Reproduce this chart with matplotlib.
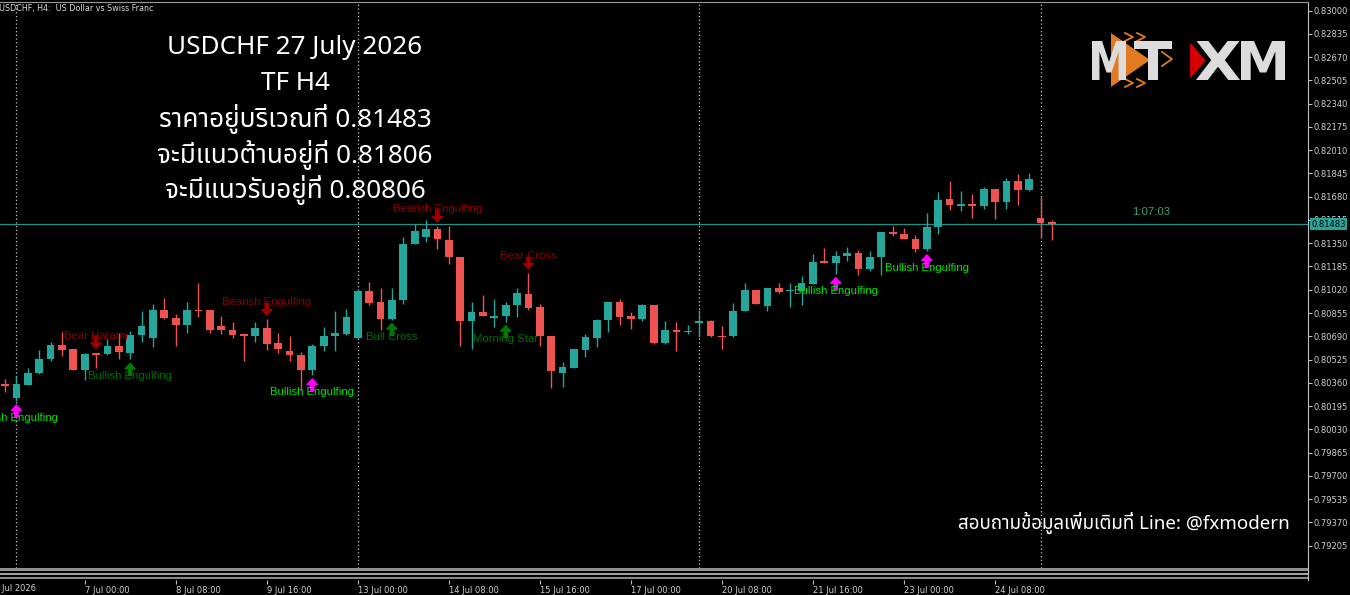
import numpy as np
import pandas as pd
import matplotlib
matplotlib.use('Agg')
import matplotlib.pyplot as plt
from matplotlib import font_manager
from matplotlib.ft2font import FT2Font
from matplotlib.transforms import offset_copy, Affine2D, blended_transform_factory
from matplotlib.textpath import TextPath
from matplotlib.font_manager import FontProperties
from matplotlib.patches import PathPatch, Polygon

# ---------------------------- data ---------------------------------
OPEN = [0.80346, 0.80251, 0.80345, 0.80428, 0.80527, 0.80626, 0.80598, 0.80451, 0.80567, 0.80565,
        0.80619, 0.80574, 0.80699, 0.80680, 0.80877, 0.80822, 0.80770, 0.80877, 0.80874, 0.80763,
        0.80737, 0.80701, 0.80694, 0.80747, 0.80643, 0.80584, 0.80560, 0.80451, 0.80619, 0.80692,
        0.80704, 0.80680, 0.81013, 0.80931, 0.80811, 0.80948, 0.81347, 0.81396, 0.81453, 0.81373,
        0.81252, 0.80796, 0.80860, 0.80822, 0.80832, 0.80912, 0.80990, 0.80896, 0.80692, 0.80432,
        0.80467, 0.80595, 0.80680, 0.80808, 0.80933, 0.80832, 0.80811, 0.80912, 0.80640, 0.80731,
        0.80723, 0.80786, 0.80796, 0.80692, 0.80690, 0.80869, 0.81018, 0.80905, 0.81035, 0.81014,
        0.81011, 0.81061, 0.81219, 0.81210, 0.81262, 0.81283, 0.81167, 0.81254, 0.81430, 0.81413,
        0.81378, 0.81309, 0.81463, 0.81664, 0.81616, 0.81626, 0.81614, 0.81732, 0.81642, 0.81793,
        0.81727, 0.81531, 0.81498]
HIGH = [0.80387, 0.80409, 0.80463, 0.80593, 0.80650, 0.80721, 0.80600, 0.80569, 0.80574, 0.80671,
        0.80711, 0.80730, 0.80870, 0.80921, 0.80960, 0.80850, 0.80931, 0.81070, 0.80876, 0.80832,
        0.80789, 0.80711, 0.80789, 0.80811, 0.80711, 0.80692, 0.80581, 0.80636, 0.80754, 0.80867,
        0.80882, 0.81025, 0.81075, 0.81030, 0.81035, 0.81394, 0.81484, 0.81513, 0.81472, 0.81474,
        0.81254, 0.80931, 0.80983, 0.80954, 0.80935, 0.81030, 0.81137, 0.80919, 0.80694, 0.80510,
        0.80600, 0.80709, 0.80810, 0.80935, 0.80957, 0.80865, 0.80917, 0.80914, 0.80798, 0.80791,
        0.80770, 0.80877, 0.80806, 0.80763, 0.80928, 0.81070, 0.81020, 0.81035, 0.81070, 0.81066,
        0.81120, 0.81276, 0.81318, 0.81295, 0.81321, 0.81302, 0.81293, 0.81432, 0.81472, 0.81460,
        0.81408, 0.81562, 0.81713, 0.81793, 0.81722, 0.81699, 0.81751, 0.81734, 0.81810, 0.81841,
        0.81848, 0.81680, 0.81515]
LOW = [0.80295, 0.80231, 0.80343, 0.80426, 0.80517, 0.80550, 0.80449, 0.80380, 0.80463, 0.80555,
       0.80529, 0.80527, 0.80648, 0.80616, 0.80815, 0.80624, 0.80716, 0.80829, 0.80711, 0.80704,
       0.80680, 0.80517, 0.80652, 0.80593, 0.80574, 0.80517, 0.80309, 0.80416, 0.80588, 0.80584,
       0.80699, 0.80678, 0.80912, 0.80737, 0.80809, 0.80921, 0.81345, 0.81361, 0.81309, 0.81203,
       0.80624, 0.80598, 0.80834, 0.80756, 0.80794, 0.80825, 0.80877, 0.80624, 0.80326, 0.80333,
       0.80465, 0.80543, 0.80612, 0.80723, 0.80770, 0.80740, 0.80798, 0.80638, 0.80638, 0.80588,
       0.80706, 0.80687, 0.80688, 0.80600, 0.80688, 0.80867, 0.80917, 0.80867, 0.80995, 0.80898,
       0.80912, 0.81059, 0.81212, 0.81134, 0.81226, 0.81123, 0.81151, 0.81125, 0.81401, 0.81378,
       0.81290, 0.81295, 0.81415, 0.81585, 0.81580, 0.81527, 0.81590, 0.81520, 0.81595, 0.81621,
       0.81722, 0.81392, 0.81375]
CLOSE = [0.80343, 0.80350, 0.80428, 0.80529, 0.80628, 0.80595, 0.80451, 0.80567, 0.80563, 0.80621,
         0.80579, 0.80701, 0.80763, 0.80877, 0.80820, 0.80770, 0.80877, 0.80873, 0.80735, 0.80735,
         0.80699, 0.80698, 0.80747, 0.80638, 0.80602, 0.80558, 0.80451, 0.80621, 0.80692, 0.80711,
         0.80825, 0.81011, 0.80924, 0.80811, 0.80950, 0.81347, 0.81437, 0.81451, 0.81378, 0.81250,
         0.80796, 0.80860, 0.80836, 0.80834, 0.80914, 0.80995, 0.80893, 0.80690, 0.80444, 0.80470,
         0.80598, 0.80683, 0.80808, 0.80933, 0.80829, 0.80811, 0.80912, 0.80640, 0.80733, 0.80727,
         0.80727, 0.80798, 0.80690, 0.80689, 0.80872, 0.81018, 0.80919, 0.81033, 0.81006, 0.81016,
         0.81070, 0.81219, 0.81215, 0.81262, 0.81281, 0.81167, 0.81250, 0.81430, 0.81415, 0.81380,
         0.81309, 0.81465, 0.81656, 0.81619, 0.81628, 0.81621, 0.81732, 0.81644, 0.81793, 0.81727,
         0.81807, 0.81495, 0.81483]

# pattern signals: candle index, label, kind
PAT_IDX = [1, 8, 11, 23, 27, 34, 38, 44, 46, 73, 81]
PAT_NAME = ['Bullish Engulfing', 'Bear Harami', 'Bullish Engulfing', 'Bearish Engulfing',
            'Bullish Engulfing', 'Bull Cross', 'Bearish Engulfing', 'Morning Star',
            'Bear Cross', 'Bullish Engulfing', 'Bullish Engulfing']
PAT_KIND = ['bull2', 'bear', 'bull', 'bear', 'bull2', 'bull', 'bear', 'bull', 'bear', 'bull2', 'bull2']

PRICE_TICKS = [0.83000, 0.82835, 0.82670, 0.82505, 0.82340, 0.82175, 0.82010, 0.81845,
               0.81680, 0.81515, 0.81350, 0.81185, 0.81020, 0.80855, 0.80690, 0.80525,
               0.80360, 0.80195, 0.80030, 0.79865, 0.79700, 0.79535, 0.79370, 0.79205]

TITLE_LINES = ['USDCHF 27 July 2026', 'TF H4', 'ราคาอยู่บริเวณที่ 0.81483',
               'จะมีแนวต้านอยู่ที่ 0.81806', 'จะมีแนวรับอยู่ที่ 0.80806']
FOOTER = 'สอบถามข้อมูลเพิ่มเติมที่ Line: @fxmodern'
HEADER = 'USDCHF, H4:  US Dollar vs Swiss Franc'
TIMER = '1:07:03'

# bar times (H4, weekends skipped)
times = pd.date_range('2026-07-03 16:00', periods=200, freq='4h')
times = times[times.dayofweek < 5][:len(OPEN) + 1]   # first entry is one bar before the chart
bar_times = times[1:]

# ---------------------------- fonts --------------------------------
def find_thai_font():
    pref = ['Noto Sans Thai', 'Noto Sans Thai Looped', 'Kanit', 'Prompt', 'Sarabun',
            'Loma', 'Garuda', 'Tlwg Typo', 'Norasi', 'Kinnari', 'Waree']
    found = {}
    for f in font_manager.fontManager.ttflist:
        try:
            cmap = FT2Font(f.fname).get_charmap()
        except Exception:
            continue
        if 0x0E23 in cmap and 0x0E32 in cmap:
            found.setdefault(f.name, f.fname)
    for p in pref:
        if p in found:
            return p
    return next(iter(found), 'DejaVu Sans')

thai = find_thai_font()
TFAM = ['Noto Sans', thai, 'DejaVu Sans']

TEAL = '#26a69a'
RED = '#ef5350'

# ---------------------------- figure -------------------------------
W, H = 1350, 595
fig = plt.figure(figsize=(W / 100, H / 100), dpi=100, facecolor='black')

ax = fig.add_axes([0, (H - 568) / H, 1308 / W, 566 / H], facecolor='black')
ax2 = fig.add_axes([0, (H - 580) / H, 1308 / W, 12 / H], facecolor='black', sharex=ax)

x = np.arange(len(OPEN))
o = np.array(OPEN); c = np.array(CLOSE); hi = np.array(HIGH); lo = np.array(LOW)
up = c >= o
cols = np.where(up, TEAL, RED)

ax.vlines(x, lo, hi, colors=cols, lw=1.0, zorder=3)
body_h = np.maximum(np.abs(c - o), 0.00011)
body_b = np.minimum(o, c) - np.where(np.abs(c - o) < 0.00011, 0.00005, 0)
ax.bar(x, body_h, bottom=body_b, width=0.68, color=cols, edgecolor='none', zorder=4)

# week separators
seps = [i for i, t in enumerate(bar_times) if t.dayofweek == 0 and t.hour == 0]
for s in seps:
    ax.axvline(s, color='#c8c8c8', lw=0.9, ls=(0, (1, 2)), zorder=1)

# current price line
last = CLOSE[-1]
ax.axhline(last, color='#1e9188', lw=0.9, zorder=2)

ax.yaxis.tick_right()
ax.set_yticks(PRICE_TICKS)
ax.set_yticklabels(['%.5f' % v for v in PRICE_TICKS])
ax.tick_params(axis='y', length=3, width=0.8, color='#c0c0c0', labelcolor='#d0d0d0',
               labelsize=6, pad=1)
ax.tick_params(axis='x', bottom=False, labelbottom=False)
for sp in ['left', 'bottom']:
    ax.spines[sp].set_visible(False)
ax.spines['right'].set_color('#c0c0c0')
ax.spines['top'].set_color('#9a9a9a')

ax.text(1.0025, last, '%.5f' % last, transform=ax.get_yaxis_transform(), ha='left', va='center',
        fontsize=6, color='black', clip_on=False, zorder=20,
        bbox=dict(boxstyle='square,pad=0.18', fc=TEAL, ec='none'))

# pattern arrows and labels
style = {'bull2': ('#ff00ff', '#00e600'), 'bull': ('#007a00', '#007000'),
         'bear': ('#9a0000', '#8b0000')}
for i, name, kind in zip(PAT_IDX, PAT_NAME, PAT_KIND):
    acol, tcol = style[kind]
    if kind.startswith('bull'):
        base, tip, tail, ty = LOW[i], -4, -16, -17
    else:
        base, tip, tail, ty = HIGH[i], 4, 16, 17
    ax.annotate('', xy=(i, base), xycoords=offset_copy(ax.transData, fig=fig, y=tip, units='dots'),
                xytext=(i, base), textcoords=offset_copy(ax.transData, fig=fig, y=tail, units='dots'),
                arrowprops=dict(arrowstyle='simple,head_length=0.5,head_width=0.9,tail_width=0.3',
                                color=acol, shrinkA=0, shrinkB=0, mutation_scale=8), zorder=6)
    ax.text(i, base, name, transform=offset_copy(ax.transData, fig=fig, y=ty, units='dots'),
            ha='center', va='center', fontsize=8.2, color=tcol, family='Liberation Sans', zorder=7)

# bottom strip with time axis
for y0, y1, cc in [(0.75, 1.0, '#8e8e8e'), (0.42, 0.6, '#a2a2a2'), (0.08, 0.25, '#8a8a8a')]:
    ax2.axhspan(y0, y1, color=cc, lw=0)
ax2.set_ylim(0, 1)
ax2.set_yticks([])
tick_pos = list(range(7, len(OPEN), 8))
tick_lab = ['%d %s' % (bar_times[p].day, bar_times[p].strftime('%b %H:%M')) for p in tick_pos]
ax2.set_xticks(tick_pos)
ax2.set_xticklabels(tick_lab)
for lab in ax2.get_xticklabels():
    lab.set_ha('left')
ax2.tick_params(axis='x', length=3, width=0.8, color='#c0c0c0', labelcolor='#d0d0d0',
                labelsize=6, pad=1)
for sp in ['left', 'top', 'bottom']:
    ax2.spines[sp].set_visible(False)
ax2.spines['right'].set_color('#c0c0c0')
# first label belongs to the bar before the chart
t0 = times[0]
ax2.text(-1, 0, '%d %s' % (t0.day, t0.strftime('%b %Y')),
         transform=offset_copy(blended_transform_factory(ax2.transData, ax2.transAxes),
                               fig=fig, y=-4, units='dots'),
         ha='left', va='top', fontsize=6, color='#d0d0d0', clip_on=False)

ax.set_xlim(-5 / 11.38, 1303 / 11.38)
ax.set_ylim(0.790470, 0.830603)

# ---------------------------- overlay ------------------------------
ov = fig.add_axes([0, 0, 1, 1], zorder=10)
ov.set_xlim(0, W)
ov.set_ylim(H, 0)
ov.axis('off')
ov.patch.set_alpha(0)

ov.text(-1, 9, HEADER, fontsize=5.8, color='#d8d8d8', va='center', ha='left')
ov.text(1151, 212, TIMER, fontsize=8.2, color='#3f9e6b', ha='center', va='center',
        family='Liberation Sans')

for k, line in enumerate(TITLE_LINES):
    ov.text(295, 48 + 35.5 * k, line, ha='center', va='center', fontsize=18.8, color='white',
            family=TFAM)
ov.text(1290, 523, FOOTER, ha='right', va='center', fontsize=13.5, color='white', family=TFAM)


def word(txt, x0, y0, x1, y1, color, z=6):
    tp = TextPath((0, 0), txt, size=10, prop=FontProperties(family='DejaVu Sans', weight='bold'))
    bb = tp.get_extents()
    tr = Affine2D().translate(-bb.x0, -bb.y0).scale((x1 - x0) / bb.width, -(y1 - y0) / bb.height)
    tr = tr.translate(x0, y1)
    ov.add_patch(PathPatch(tr.transform_path(tp), fc=color, ec='none', zorder=z))


# logo
ORANGE = '#e07b22'
ov.add_patch(Polygon([(1111, 33), (1111, 87), (1150, 60)], closed=True, fc=ORANGE, ec='none', zorder=5))
for pts in [[(1125, 33), (1133, 37), (1125, 41)], [(1137, 33), (1145, 37), (1137, 41)],
            [(1125, 79), (1133, 83), (1125, 87)], [(1137, 79), (1145, 83), (1137, 87)],
            [(1162, 52), (1172, 59), (1162, 66)]]:
    xs, ys = zip(*pts)
    ov.plot(xs, ys, color=ORANGE, lw=1.3, zorder=5)
word('M', 1092, 41, 1126, 80, '#dcdcdc')
word('T', 1134, 41, 1172, 80, '#dcdcdc')
word('X', 1196, 41, 1240, 80, '#dcdcdc')
word('M', 1241, 41, 1285, 80, '#dcdcdc')
ov.add_patch(Polygon([(1189, 40), (1189, 81), (1207, 60.5)], closed=True, fc='#d60000', ec='black',
                     lw=1.5, zorder=7))

fig.savefig('out.png', dpi=100, facecolor='black')
